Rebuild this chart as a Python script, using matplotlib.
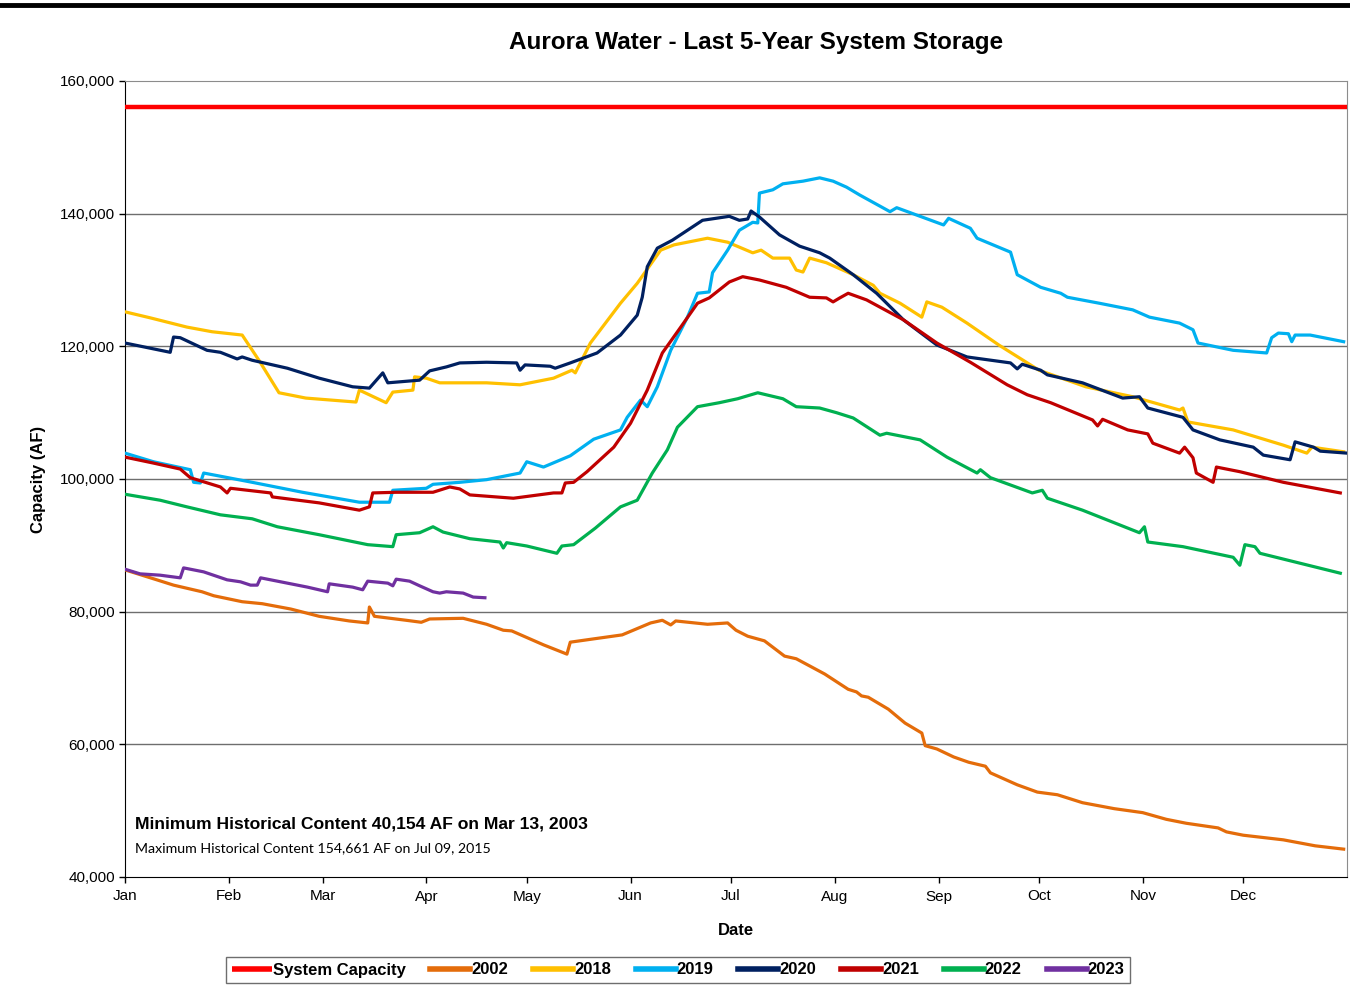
import matplotlib.pyplot as plt
from matplotlib.lines import Line2D
from matplotlib.ticker import FuncFormatter

# day of year (0 = Jan 1) and storage in acre-feet
capacity_value = 156100

days_2002 = [0, 9.5, 14.5, 23, 26.5, 35, 41, 49.5, 58, 67, 72.5, 73, 74.5, 84, 88.5, 91, 101, 108, 113, 115.5,
             125, 132, 133, 140, 148.5, 157, 160.5, 163, 164.5, 174, 180, 182.5, 186, 191, 197, 200.5, 209, 216,
             218.5, 220, 222, 228, 233, 238, 239, 242.5, 247.5, 252, 257, 258.5, 266.5, 272.5, 278.5, 286,
             295.5, 304, 311, 317, 326.5, 329, 334, 346, 355.5, 364]
vals_2002 = [86300, 84800, 84000, 83000, 82400, 81500, 81200, 80400, 79300, 78600, 78300, 80700, 79300, 78700,
             78400, 78900, 79000, 78100, 77200, 77100, 75000, 73600, 75400, 75900, 76500, 78300, 78700, 78000,
             78600, 78100, 78300, 77200, 76300, 75600, 73300, 72900, 70600, 68300, 67900, 67300, 67100, 65300,
             63200, 61700, 59800, 59300, 58100, 57300, 56700, 55700, 53900, 52800, 52400, 51200, 50300, 49700,
             48700, 48100, 47400, 46800, 46300, 45600, 44700, 44200]

days_2018 = [0, 7.5, 18.5, 26, 35, 40, 46, 54, 69, 70, 78, 80, 86, 86.5, 90, 94, 108, 118, 128, 133.5,
             134.5, 139, 142, 148, 153, 160, 164, 174, 180, 187.5, 190, 193.5, 198.5, 200.5, 202.5, 204.5,
             209.5, 217.5, 223.5, 225.5, 231.5, 238, 239.5, 244, 251.5, 261, 273, 287, 301, 315, 316, 317.5,
             331, 346, 353, 354.5, 364]
vals_2018 = [125200, 124300, 122900, 122200, 121700, 117900, 113000, 112200, 111600, 113400, 111500, 113100,
             113400, 115400, 115200, 114500, 114500, 114200, 115200, 116400, 116000, 120500, 122500, 126500,
             129500, 134500, 135300, 136300, 135700, 134100, 134500, 133300, 133300, 131500, 131200, 133300,
             132600, 130800, 129200, 128000, 126500, 124400, 126700, 125900, 123500, 120200, 116400, 113900,
             112400, 110400, 110700, 108600, 107400, 105100, 103900, 104800, 104100]

days_2019 = [0, 8.5, 19.5, 20.5, 22.5, 23.5, 38, 53, 70, 79, 80, 90, 92, 100, 108, 118, 120, 125, 133, 140,
             148, 150, 154, 156, 159, 163, 168, 171, 174.5, 175.5, 180, 183.5, 187.5, 189, 189.5, 193.5, 196.5,
             202.5, 207.5, 211.5, 215.5, 219.5, 228.5, 230.5, 244.5, 246, 252.5, 254.5, 264.5, 266.5, 273.5,
             279.5, 281.5, 291, 301, 306, 315, 319, 320.5, 331, 341, 342.5, 344.5, 347.5, 348.5, 349.5, 354, 364]
vals_2019 = [103900, 102600, 101400, 99500, 99400, 100900, 99500, 98000, 96500, 96500, 98300, 98600, 99200,
             99500, 99900, 100900, 102600, 101800, 103500, 106000, 107400, 109300, 111900, 110900, 113900,
             119400, 124400, 128000, 128200, 131100, 134500, 137500, 138700, 138600, 143100, 143600, 144500,
             144900, 145400, 144900, 144000, 142800, 140300, 140900, 138300, 139300, 137800, 136300, 134200,
             130800, 128900, 128000, 127400, 126500, 125500, 124400, 123500, 122500, 120500, 119400, 119000,
             121300, 122000, 121900, 120700, 121700, 121700, 120700]

days_2020 = [0, 13.5, 14.5, 16.5, 24.5, 28.5, 33.5, 35, 38, 48.5, 58, 68, 73, 77, 78.5, 88, 91, 96, 100, 108,
             117, 118, 119.5, 127, 128.5, 133, 141, 148, 153, 154.5, 156, 159, 163.5, 168, 172.5, 180.5, 183.5,
             186, 187, 189.5, 195.5, 201.5, 207.5, 210.5, 217.5, 224.5, 232.5, 242.5, 251.5, 264.5, 266.5, 268,
             273.5, 275.5, 286, 298, 303, 305.5, 316, 319, 327, 337, 340, 348, 349.5, 355, 357, 365]
vals_2020 = [120500, 119100, 121400, 121300, 119400, 119100, 118100, 118400, 117900, 116700, 115200, 113900,
             113700, 116000, 114500, 114900, 116300, 116900, 117500, 117600, 117500, 116400, 117200, 117000,
             116700, 117500, 119000, 121700, 124700, 127400, 132000, 134800, 136000, 137500, 139000, 139600,
             139000, 139200, 140400, 139500, 136800, 135100, 134100, 133300, 130800, 128000, 124000, 120200,
             118400, 117500, 116600, 117300, 116400, 115700, 114500, 112200, 112400, 110700, 109300, 107400,
             105900, 104800, 103600, 102900, 105600, 104800, 104200, 103900]

days_2021 = [0, 8.5, 16.5, 19.5, 28.5, 30.5, 31.5, 43.5, 44, 58, 70, 73, 74, 81, 92, 97, 100, 103, 116, 128,
             130.5, 131.5, 134, 138, 146, 151, 156, 160.5, 166, 171, 174.5, 180.5, 184.5, 189.5, 197.5, 204.5,
             209.5, 211.5, 213.5, 216, 221.5, 232.5, 242.5, 252.5, 263.5, 269.5, 276.5, 289, 290.5, 292, 299.5,
             305.5, 307, 315, 316.5, 319, 320, 325, 326, 333, 346, 363]
vals_2021 = [103300, 102400, 101500, 100200, 98800, 97900, 98600, 97900, 97300, 96400, 95300, 95800, 97900,
             98000, 98000, 98800, 98500, 97600, 97100, 97900, 97900, 99400, 99500, 101100, 104800, 108400,
             113400, 119000, 122900, 126500, 127300, 129700, 130500, 130000, 128900, 127400, 127300, 126700,
             127300, 128000, 127000, 124000, 120500, 117600, 114200, 112700, 111500, 108900, 108000, 109000,
             107400, 106800, 105400, 103900, 104800, 103200, 100900, 99500, 101800, 101100, 99500, 97900]

days_2022 = [0, 10.5, 18.5, 28.5, 38, 45.5, 58, 72.5, 80, 81, 88, 92, 95, 103, 112, 113, 114, 120, 129, 130.5,
             134, 140.5, 148, 153, 157.5, 162, 165, 171, 177.5, 183, 189, 196.5, 200.5, 207.5, 212.5, 217.5,
             225.5, 227.5, 237.5, 245.5, 254.5, 255.5, 258.5, 271, 274, 275.5, 286, 303, 304.5, 305.5, 316, 331,
             333, 334.5, 337.5, 339, 351, 363]
vals_2022 = [97700, 96800, 95800, 94600, 94000, 92800, 91600, 90100, 89800, 91600, 91900, 92800, 92000, 91000,
             90500, 89600, 90400, 89900, 88800, 89900, 90100, 92600, 95800, 96800, 100900, 104400, 107800,
             110900, 111500, 112100, 113000, 112100, 110900, 110700, 110000, 109200, 106600, 106900, 105900,
             103300, 100900, 101400, 100200, 97900, 98300, 97100, 95300, 91900, 92800, 90500, 89800, 88200,
             87000, 90100, 89800, 88800, 87300, 85800]

days_2023 = [0, 4.5, 10.5, 16.5, 17.5, 23.5, 30.5, 34.5, 37.5, 39.5, 40.5, 46.5, 54.5, 60.5, 61, 68, 71, 72.5,
             78.5, 80, 81, 85, 88, 92, 94, 96, 101, 104, 107.5]
vals_2023 = [86400, 85700, 85500, 85100, 86600, 86000, 84800, 84500, 84000, 84000, 85100, 84500, 83700, 83000,
             84200, 83700, 83300, 84600, 84300, 83900, 84900, 84600, 83900, 83000, 82800, 83000, 82800, 82200,
             82100]

month_starts = [0, 31, 59, 90, 120, 151, 181, 212, 243, 273, 304, 334]
month_names = ["Jan", "Feb", "Mar", "Apr", "May", "Jun", "Jul", "Aug", "Sep", "Oct", "Nov", "Dec"]

series = [
    ("2002", days_2002, vals_2002, "#E46C0A"),
    ("2018", days_2018, vals_2018, "#FFC000"),
    ("2019", days_2019, vals_2019, "#00B0F0"),
    ("2020", days_2020, vals_2020, "#002060"),
    ("2021", days_2021, vals_2021, "#C00000"),
    ("2022", days_2022, vals_2022, "#00B050"),
    ("2023", days_2023, vals_2023, "#7030A0"),
]

plt.rcParams['font.family'] = ['Liberation Sans', 'DejaVu Sans']

fig = plt.figure(figsize=(13.5, 9.91), dpi=100)
ax = fig.add_axes([125 / 1350, 1 - 877 / 991, 1222 / 1350, 796 / 991])

for y in range(60000, 160000, 20000):
    ax.axhline(y, color="#6e6e6e", lw=1, zorder=1)

handles = []
h, = ax.plot([0, 365], [capacity_value, capacity_value], color="#FF0000", lw=3.2, label="System Capacity",
             solid_capstyle="butt", zorder=3)
handles.append(h)
for name, d, v, c in series:
    h, = ax.plot(d, v, color=c, lw=2.3, label=name, zorder=3)
    handles.append(h)

ax.set_xlim(0, 365)
ax.set_ylim(40000, 160000)
ax.set_xticks(month_starts)
ax.set_xticklabels(month_names)
ax.set_yticks(range(40000, 160001, 20000))
ax.yaxis.set_major_formatter(FuncFormatter(lambda v, p: f"{int(v):,}"))
ax.tick_params(axis="both", labelsize=11, length=4, width=1, color="black")
ax.tick_params(axis="x", pad=5)
ax.tick_params(axis="y", pad=3)

for s in ["top", "right"]:
    ax.spines[s].set_color("#8c8c8c")
for s in ["left", "bottom"]:
    ax.spines[s].set_color("black")

ax.set_xlabel("Date", fontsize=12, fontweight="bold", labelpad=14)
ax.set_ylabel("Capacity (AF)", fontsize=12, fontweight="bold", labelpad=10)

ax.text(0.008, 0.066, "Minimum Historical Content 40,154 AF on Mar 13, 2003", transform=ax.transAxes,
        fontsize=12.6, fontweight="bold", va="center", ha="left")
ax.text(0.008, 0.036, "Maximum Historical Content 154,661 AF on Jul 09, 2015", transform=ax.transAxes,
        fontsize=10.2, va="center", ha="left", family=["Lato", "DejaVu Sans"])

fig.text(756 / 1350, 1 - 42 / 991, "Aurora Water - Last 5-Year System Storage", ha="center", va="center",
         fontsize=17.5, fontweight="bold")

# black rule across the top
fig.add_artist(Line2D([0, 1], [1 - 5 / 991, 1 - 5 / 991], color="black", lw=3.5))

leg = fig.legend(handles=handles, loc="center", bbox_to_anchor=(678 / 1350, 1 - 970 / 991), ncol=8,
                 frameon=True, fancybox=False, edgecolor="#6e6e6e", framealpha=1, handlelength=2.4,
                 handletextpad=0.05, columnspacing=1.5, borderpad=0.35,
                 prop={"weight": "bold", "size": 12})
for l in leg.get_lines():
    l.set_linewidth(4)

fig.savefig("out.png", dpi=100)
